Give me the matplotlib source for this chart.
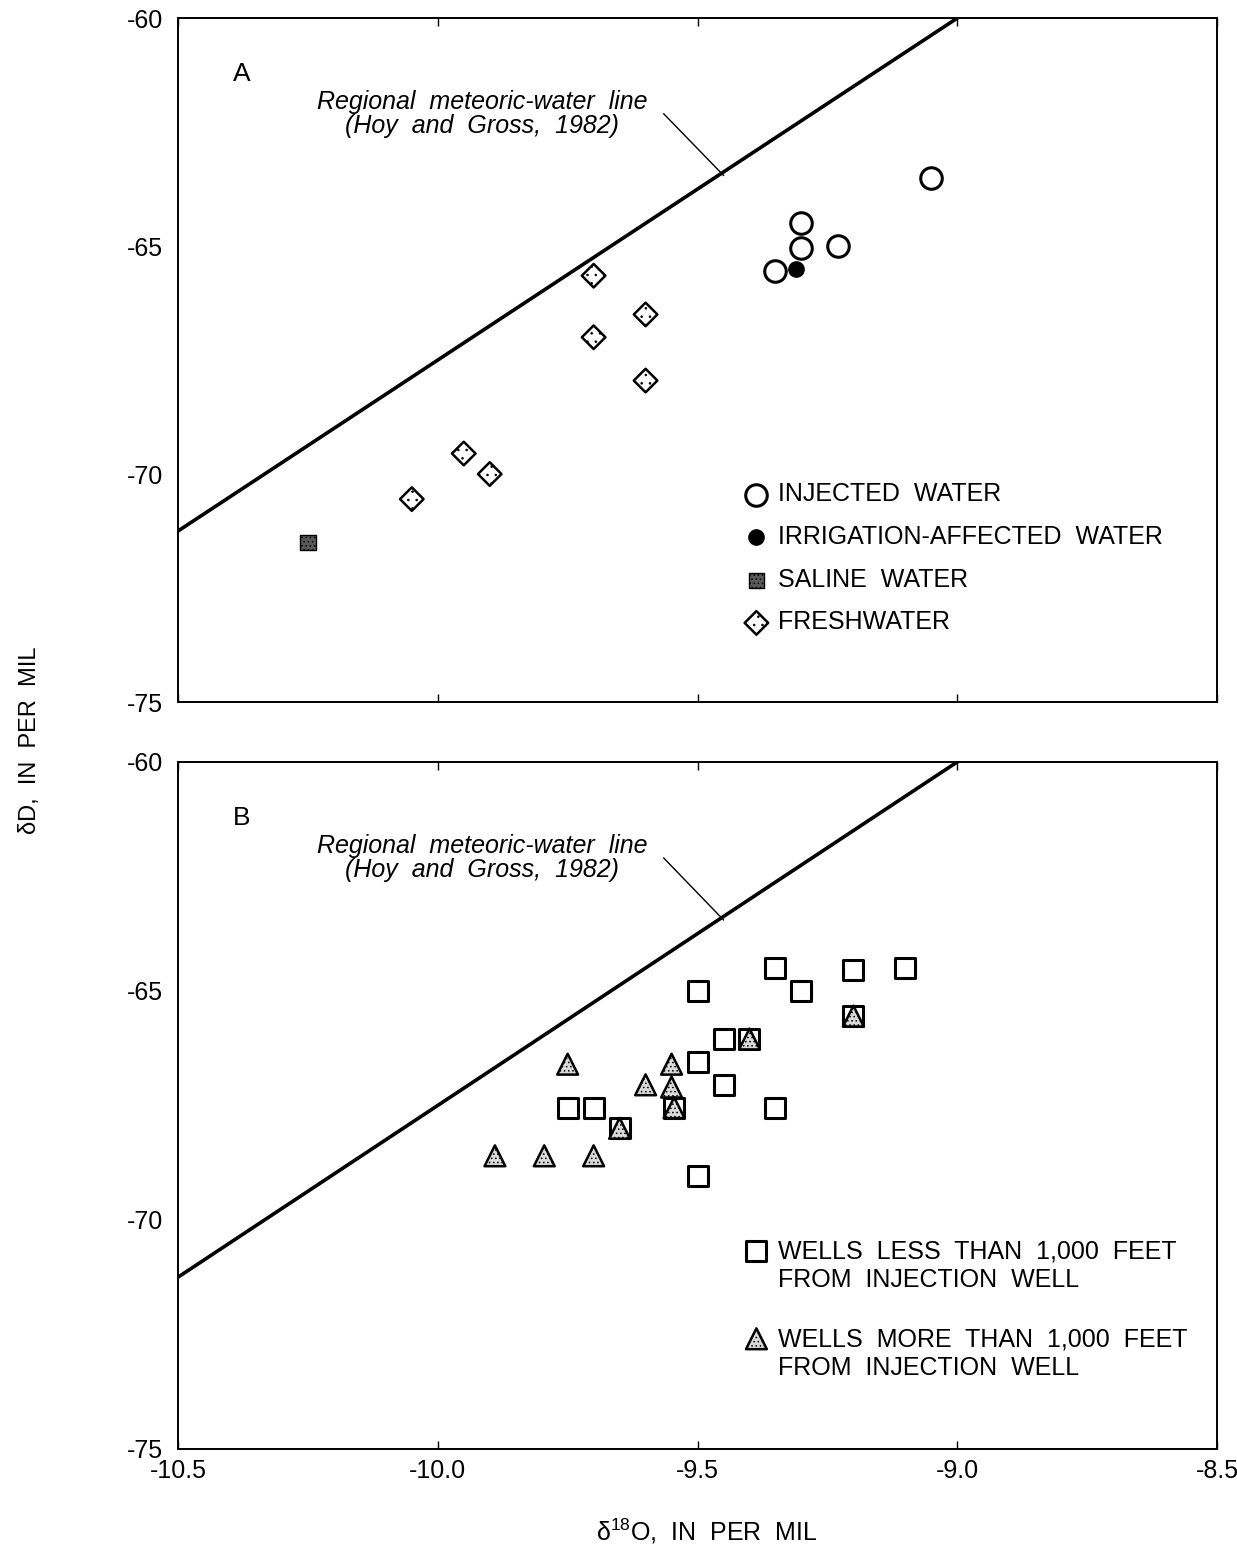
"""Stable-isotope plot: dD vs d18O with regional meteoric-water line"""

import numpy as np
import matplotlib
matplotlib.use('Agg')
import matplotlib.pyplot as plt

plt.rcParams['font.family'] = ['Liberation Sans', 'DejaVu Sans']
plt.rcParams['hatch.linewidth'] = 0.6
plt.rcParams['axes.unicode_minus'] = False
plt.rcParams['mathtext.fontset'] = 'custom'
plt.rcParams['mathtext.rm'] = 'Liberation Sans'

# --- panel A data ---
injected_x = [-9.05, -9.30, -9.30, -9.23, -9.35]
injected_y = [-63.5, -64.5, -65.05, -65.0, -65.55]
irrig_x = [-9.31]
irrig_y = [-65.5]
saline_x = [-10.25]
saline_y = [-71.5]
fresh_x = [-9.70, -9.60, -9.70, -9.60, -9.95, -9.90, -10.05]
fresh_y = [-65.65, -66.5, -67.0, -67.95, -69.55, -70.0, -70.55]

# --- panel B data ---
near_x = [-9.35, -9.20, -9.10, -9.50, -9.30, -9.45, -9.40, -9.20,
          -9.50, -9.45, -9.75, -9.70, -9.35, -9.65, -9.545, -9.50]
near_y = [-64.5, -64.55, -64.5, -65.0, -65.0, -66.05, -66.05, -65.55,
          -66.55, -67.05, -67.55, -67.55, -67.55, -68.0, -67.55, -69.05]
far_x = [-9.75, -9.55, -9.60, -9.55, -9.545, -9.40, -9.20, -9.65,
         -9.89, -9.795, -9.70]
far_y = [-66.6, -66.6, -67.05, -67.1, -67.55, -66.05, -65.55, -68.0,
         -68.6, -68.6, -68.6]

# meteoric-water line: dD = 7.5 d18O + 7.5
mwl_x = np.array([-10.5, -9.0])
mwl_y = 7.5 * mwl_x + 7.5

x_ticks = [-10.5, -10.0, -9.5, -9.0, -8.5]
x_labels = ['-10.5', '-10.0', '-9.5', '-9.0', '-8.5']
y_ticks = [-75, -70, -65, -60]

FS = 18

fig = plt.figure(figsize=(12.37, 15.59), dpi=100)
ax1 = fig.add_axes([0.1439, 0.5497, 0.840, 0.4387])
ax2 = fig.add_axes([0.1439, 0.0706, 0.840, 0.4407])


def style_axis(ax, letter):
    ax.set_xlim(-10.5, -8.5)
    ax.set_ylim(-75, -60)
    ax.set_xticks(x_ticks)
    ax.set_yticks(y_ticks)
    ax.tick_params(axis='x', direction='in', length=6, width=1, labelsize=FS,
                   top=True, pad=7)
    ax.tick_params(axis='y', direction='in', length=0, labelsize=FS, pad=11)
    for sp in ax.spines.values():
        sp.set_linewidth(1.4)
    ax.plot(mwl_x, mwl_y, color='black', lw=2.6, zorder=2)
    ax.text(0.053, 0.918, letter, transform=ax.transAxes, fontsize=19,
            ha='left', va='center')
    ax.text(-9.915, -62.1, 'Regional  meteoric-water  line\n(Hoy  and  Gross,  1982)',
            fontsize=FS, style='italic', ha='center', va='center',
            linespacing=1.0)
    ax.plot([-9.565, -9.45], [-62.1, -63.45], color='black', lw=1.0)


style_axis(ax1, 'A')
ax1.set_xticklabels([])

ax1.scatter(injected_x, injected_y, s=15.5**2, marker='o', facecolor='white',
            edgecolor='black', linewidths=2.2, zorder=3, label='INJECTED  WATER')
ax1.scatter(irrig_x, irrig_y, s=11**2, marker='o', facecolor='black',
            edgecolor='black', zorder=4, label='IRRIGATION-AFFECTED  WATER')
ax1.scatter(saline_x, saline_y, s=11**2, marker='s', facecolor='0.35',
            edgecolor='black', hatch='....', linewidths=1.0, zorder=3,
            label='SALINE  WATER')
ax1.scatter(fresh_x, fresh_y, s=12**2, marker='D', facecolor='white',
            edgecolor='black', hatch='..', linewidths=1.8, zorder=3,
            label='FRESHWATER')

ax1.legend(loc='upper left', bbox_to_anchor=(0.535, 0.336), frameon=False,
           fontsize=FS, labelspacing=0.75, handletextpad=0.35,
           handlelength=1.0, borderaxespad=0)

style_axis(ax2, 'B')
ax2.set_xticklabels(x_labels)

ax2.scatter(near_x, near_y, s=14**2, marker='s', facecolor='white',
            edgecolor='black', linewidths=2.2, zorder=3,
            label='WELLS  LESS  THAN  1,000  FEET\nFROM  INJECTION  WELL')
ax2.scatter(far_x, far_y, s=15**2, marker='^', facecolor='0.85',
            edgecolor='black', hatch='....', linewidths=1.8, zorder=4,
            label='WELLS  MORE  THAN  1,000  FEET\nFROM  INJECTION  WELL')

leg2 = ax2.legend(loc='upper left', bbox_to_anchor=(0.535, 0.319), frameon=False,
                  fontsize=FS, labelspacing=1.45, handletextpad=0.35,
                  handlelength=1.0, borderaxespad=0)
# put the marker beside the first line of each two-line label
for col in leg2._legend_handle_box.get_children():
    for row in col.get_children():
        row.align = 'top'

fig.text(0.024, 0.525, 'δD,  IN  PER  MIL', rotation=90, fontsize=17,
         ha='center', va='center')
fig.text(0.571, 0.018, r'δ$^{\mathregular{18}}$O,  IN  PER  MIL', fontsize=FS,
         ha='center', va='center')

fig.savefig('out.png', dpi=100)
